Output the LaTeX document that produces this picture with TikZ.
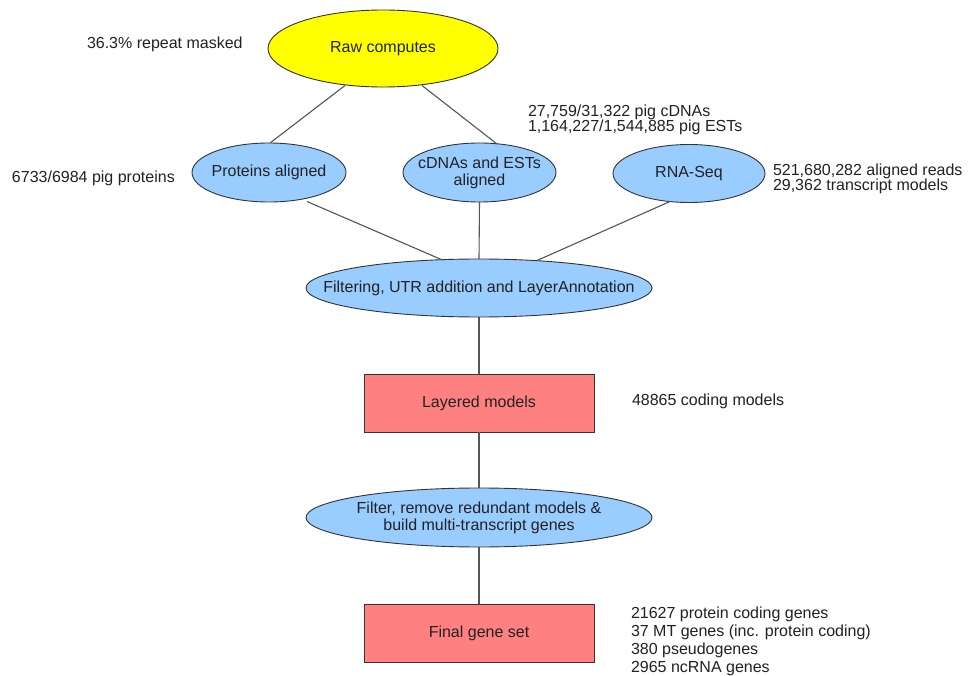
\documentclass[tikz,border=0pt]{standalone}
\usepackage{fontspec}
\setmainfont{Liberation Sans}
\usetikzlibrary{shapes.geometric,calc}
\definecolor{stageblue}{HTML}{99CCFF}
\definecolor{stageyellow}{HTML}{FFFF00}
\definecolor{stagered}{HTML}{FF8080}
\definecolor{edgegray}{HTML}{555555}
\definecolor{bordergray}{HTML}{333333}
\definecolor{inkgray}{HTML}{222222}
\begin{document}
\begin{tikzpicture}[x=1pt,y=-1pt,
  every node/.style={inner sep=0pt, outer sep=0pt, text=inkgray,
    font=\fontsize{16}{17}\selectfont},
  stageell/.style={ellipse, draw=bordergray, line width=0.9pt, fill=stageblue},
  stagebox/.style={rectangle, draw=bordergray, line width=0.9pt, fill=stagered},
  link/.style={draw=edgegray, line width=1.1pt},
  note/.style={anchor=base west, align=left},
  tightnote/.style={anchor=base west, align=left,
    font=\fontsize{16}{13.3}\selectfont}
]
\path[use as bounding box, fill=white] (0,0) rectangle (969,676);

% ---- stages ----
\node[stageell, fill=stageyellow, minimum width=230, minimum height=77] (raw) at (383,48.5) {};
\node (rawtxt) at (raw) {Raw computes};

\node[stageell, minimum width=154, minimum height=59] (prot) at (269,172.5) {};
\node (prottxt) at (prot) {Proteins aligned};

\node[stageell, minimum width=153, minimum height=59] (cdna) at (479.5,172.5) {};
\node[align=center] (cdnatxt) at (cdna) {cDNAs and ESTs\\aligned};

\node[stageell, minimum width=152, minimum height=58] (rna) at (689,173.5) {};
\node (rnatxt) at (rna) {RNA-Seq};

\node[stageell, minimum width=346, minimum height=58] (filt) at (479,288) {};
\node (filttxt) at (filt) {Filtering, UTR addition and LayerAnnotation};

\node[stagebox, minimum width=230, minimum height=58] (layer) at (479,403) {};
\node (layertxt) at (layer) {Layered models};

\node[stageell, minimum width=346, minimum height=59] (merge) at (479,517.5) {};
\node[align=center] (mergetxt) at (merge) {Filter, remove redundant models \&\\build multi-transcript genes};

\node[stagebox, minimum width=230, minimum height=58] (final) at (479,633) {};
\node (finaltxt) at (final) {Final gene set};

% ---- connectors ----
\draw[link] ($(raw.center)+(-38,37)$) -- ($(prot.north)+(1,0)$);
\draw[link] ($(raw.center)+(39,37)$) -- ($(cdna.north)+(17.5,1)$);
\draw[link] ($(prot.center)+(38,29)$) -- ($(filt.north)+(-37,0.8)$);
\draw[link] (cdna.south) -- (filt.north);
\draw[link] ($(rna.center)+(-19,28)$) -- ($(filt.north)+(58,1.5)$);
\draw[link] (filt.south) -- (layer.north);
\draw[link] (layer.south) -- (merge.north);
\draw[link] (merge.south) -- (final.north);

% ---- annotations (multi-line notes sit on the baseline of their last line) ----
\node[note] (repeatnote) at (87,49) {36.3\% repeat masked};
\node[note] (protnote) at (12,183) {6733/6984 pig proteins};
\node[tightnote] (cdnanote) at (528,132) {27,759/31,322 pig cDNAs\\1,164,227/1,544,885 pig ESTs};
\node[tightnote] (rnanote) at (773,191) {521,680,282 aligned reads\\29,362 transcript models};
\node[note] (layernote) at (632,405) {48865 coding models};
\node[note, font=\fontsize{16}{17.8}\selectfont] (finalnote) at (631,672)
  {21627 protein coding genes\\37 MT genes (inc. protein coding)\\380 pseudogenes\\2965 ncRNA genes};
\end{tikzpicture}
\end{document}
